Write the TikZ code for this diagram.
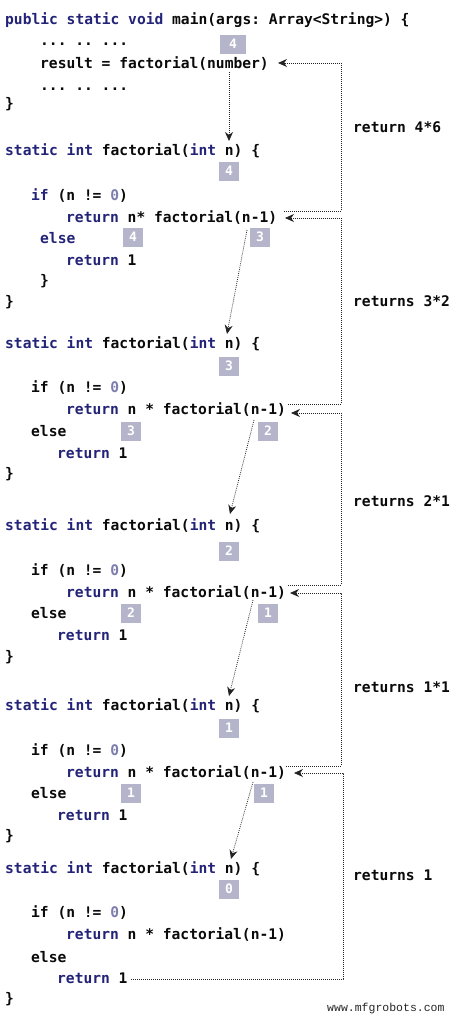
\documentclass[tikz,border=0pt]{standalone}
\usepackage{fontspec}
\setmonofont{DejaVu Sans Mono}
\newfontfamily\wmfont{Liberation Mono}
\usetikzlibrary{arrows.meta}
\definecolor{kw}{RGB}{35,35,120}
\definecolor{zero}{RGB}{125,125,175}
\definecolor{badge}{RGB}{180,180,202}
\definecolor{ink}{RGB}{10,10,10}
\definecolor{dotc}{RGB}{35,35,35}
\newcommand\kwd[1]{\textcolor{kw}{#1}}
\newcommand\zr[1]{\textcolor{zero}{#1}}
\begin{document}
\begin{tikzpicture}[x=1pt,y=-1pt,
  code/.style={anchor=base west, inner sep=0pt, font=\fontsize{14.6}{17}\selectfont\ttfamily\bfseries, text=ink},
  badgebox/.style={fill=badge, text=white, minimum width=20pt, minimum height=19pt, inner sep=0pt, font=\fontsize{13}{13}\selectfont\ttfamily\bfseries},
  retline/.style={draw=dotc, line width=0.8pt, dash pattern=on 0.8pt off 1.2pt, -{Stealth[length=9pt,width=8pt]}},
  callline/.style={retline},
]
\fill[white] (0,0) rectangle (456,1017);

% main
\node[code] (m1) at (5,24) {\kwd{public static void} main(args: Array<String>) \{};
\node[code] (m2) at (40,45) {... .. ...};
\node[code] (m3) at (40,68) {result = factorial(number)};
\node[code] (m4) at (40,90) {... .. ...};
\node[code] (m5) at (5,108) {\}};
\node[badgebox, minimum width=26pt] (b0) at (233,44) {4};

% factorial 4
\node[code] (a0) at (5,155) {\kwd{static int} factorial(\kwd{int} n) \{};
\node[code] (a1) at (31,200) {\kwd{if} (n != \zr{0})};
\node[code] (a2) at (66,222) {\kwd{return} n* factorial(n-1)};
\node[code] (a3) at (40,243) {\kwd{else}};
\node[code] (a4) at (66,265) {\kwd{return} 1};
\node[code] (a5) at (40,285) {\}};
\node[code] (a6) at (5,306) {\}};
\node[badgebox] (ba0) at (229,171) {4};
\node[badgebox] (ba1) at (133,237) {4};
\node[badgebox] (ba2) at (260,237) {3};

% factorial 3
\node[code] (c0) at (5,348) {\kwd{static int} factorial(\kwd{int} n) \{};
\node[code] (c1) at (31,392) {if (n != \zr{0})};
\node[code] (c2) at (66,414) {\kwd{return} n * factorial(n-1)};
\node[code] (c3) at (31,436) {else};
\node[code] (c4) at (57,458) {\kwd{return} 1};
\node[code] (c5) at (5,478) {\}};
\node[badgebox] (bc0) at (229,366) {3};
\node[badgebox] (bc1) at (131,431) {3};
\node[badgebox] (bc2) at (268,431) {2};

% factorial 2
\node[code] (d0) at (5,530) {\kwd{static int} factorial(\kwd{int} n) \{};
\node[code] (d1) at (31,575) {if (n != \zr{0})};
\node[code] (d2) at (66,597) {\kwd{return} n * factorial(n-1)};
\node[code] (d3) at (31,618) {else};
\node[code] (d4) at (57,640) {\kwd{return} 1};
\node[code] (d5) at (5,661) {\}};
\node[badgebox] (bd0) at (229,551) {2};
\node[badgebox] (bd1) at (131,613) {2};
\node[badgebox] (bd2) at (268,613) {1};

% factorial 1
\node[code] (e0n) at (5,710) {\kwd{static int} factorial(\kwd{int} n) \{};
\node[code] (e1n) at (31,755) {if (n != \zr{0})};
\node[code] (e2n) at (66,777) {\kwd{return} n * factorial(n-1)};
\node[code] (e3n) at (31,798) {else};
\node[code] (e4n) at (57,820) {\kwd{return} 1};
\node[code] (e5n) at (5,840) {\}};
\node[badgebox] (be0) at (229,728) {1};
\node[badgebox] (be1) at (131,793) {1};
\node[badgebox] (be2) at (264,793) {1};

% factorial 0
\node[code] (g0) at (5,873) {\kwd{static int} factorial(\kwd{int} n) \{};
\node[code] (g1) at (31,917) {if (n != \zr{0})};
\node[code] (g2) at (66,939) {\kwd{return} n * factorial(n-1)};
\node[code] (g3) at (31,962) {else};
\node[code] (g4) at (57,983) {\kwd{return} 1};
\node[code] (g5) at (5,1003) {\}};
\node[badgebox] (bg0) at (229,889) {0};

% labels
\node[code] (l0) at (353,132) {return 4*6};
\node[code] (l1) at (353,306) {returns 3*2};
\node[code] (l2) at (353,506) {returns 2*1};
\node[code] (l3) at (353,692) {returns 1*1};
\node[code] (l4) at (353,880) {returns 1};
\node[anchor=base west, inner sep=0pt, font=\wmfont\fontsize{11.5}{12}\selectfont, text=black!85] (wm) at (327,1011) {www.mfgrobots.com};

% return paths
\coordinate (rx) at (341,0);
\coordinate (rxb) at (343,0);
\coordinate (u1) at (284,211); \coordinate (t0) at (278,63);
\coordinate (u2) at (288,404); \coordinate (t1) at (285,218);
\coordinate (u3) at (288,585); \coordinate (t2) at (291,413);
\coordinate (u4) at (286,766); \coordinate (t3) at (290,593);
\coordinate (u5) at (131,979); \coordinate (t4) at (294,773);
\draw[retline] (u1) -- (u1 -| rx) -- (t0 -| rx) -- (t0);
\draw[retline] (u2) -- (u2 -| rx) -- (t1 -| rx) -- (t1);
\draw[retline] (u3) -- (u3 -| rx) -- (t2 -| rx) -- (t2);
\draw[retline] (u4) -- (u4 -| rx) -- (t3 -| rx) -- (t3);
\draw[retline] (u5) -- (u5 -| rxb) -- (t4 -| rxb) -- (t4);

% call arrows
\coordinate (s0) at (229,72);  \coordinate (e0) at (229,141);
\coordinate (s1) at (247,230); \coordinate (e1) at (227,334);
\coordinate (s2) at (254,420); \coordinate (e2) at (230,514);
\coordinate (s3) at (253,600); \coordinate (e3) at (229,696);
\coordinate (s4) at (253,782); \coordinate (e4) at (231,859);
\draw[callline] (s0) -- (e0);
\draw[callline] (s1) -- (e1);
\draw[callline] (s2) -- (e2);
\draw[callline] (s3) -- (e3);
\draw[callline] (s4) -- (e4);
\end{tikzpicture}
\end{document}
